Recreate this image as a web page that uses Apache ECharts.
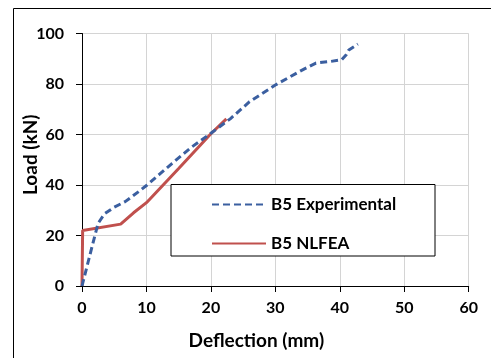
<!DOCTYPE html>
<html>
<head>
<meta charset="utf-8">
<script src="https://cdn.jsdelivr.net/npm/echarts@6/dist/echarts.min.js"></script>
<style>
  html, body { margin: 0; padding: 0; background: #fff; }
  #chart { width: 491px; height: 358px; }
</style>
</head>
<body>
<div id="chart"></div>
<script>
// Load–deflection response of beam B5: test record and nonlinear FE analysis
const expDeflection = [0, 1, 1.75, 2.5, 3.5, 5, 6.7, 9, 10, 12, 14, 17, 20, 23, 26, 30, 34, 36.3, 38.5, 40.3, 41, 41.4, 42.8];
const expLoad       = [0, 10, 17.5, 24.8, 28.6, 31.2, 33.4, 37.8, 39.8, 44.2, 48.6, 55, 60.5, 66.2, 73, 79.6, 85.3, 88.3, 88.9, 89.6, 91.6, 93.5, 95.8];

const feaDeflection = [0, 0.1, 6, 8, 10, 15, 20, 22.4];
const feaLoad       = [0, 22, 24.5, 29, 33, 46.5, 60.3, 66.2];

const xTicks = { min: 0, max: 60, step: 10 };
const yTicks = { min: 0, max: 100, step: 20 };

const seriesNames = ['B5 Experimental', 'B5 NLFEA'];

const zip = (xs, ys) => xs.map((x, i) => [x, ys[i]]);

const font = 'Lato, "Open Sans", sans-serif';

const chart = echarts.init(document.getElementById('chart'));
chart.setOption({
  animation: false,
  backgroundColor: '#fff',
  grid: { left: 82, right: 22.3, top: 33.5, bottom: 72, containLabel: false },
  graphic: [
    // outer frame (only the top and left edges fall inside the view)
    { type: 'rect', silent: true, shape: { x: 13.5, y: 8.5, width: 700, height: 600 },
      style: { fill: 'none', stroke: '#000', lineWidth: 1 }, z: 0 },
    // legend frame
    { type: 'rect', silent: true, shape: { x: 171, y: 184.5, width: 264, height: 71.5 },
      style: { fill: '#fff', stroke: '#000', lineWidth: 1 }, z: 5 }
  ],
  legend: {
    data: seriesNames,
    orient: 'vertical',
    left: 211,
    top: 196,
    padding: 0,
    itemWidth: 54,
    itemHeight: 14,
    itemGap: 22,
    z: 10,
    itemStyle: { opacity: 0 },
    textStyle: { fontFamily: font, fontWeight: 'bold', fontSize: 17, color: '#000' }
  },
  xAxis: {
    type: 'value',
    min: xTicks.min, max: xTicks.max, interval: xTicks.step,
    name: 'Deflection (mm)',
    nameLocation: 'middle',
    nameGap: 45,
    nameMoveOverlap: false,
    nameTextStyle: { fontFamily: font, fontWeight: 'bold', fontSize: 19, color: '#000', padding: [0, 38, 0, 0] },
    axisLine: { show: true, lineStyle: { color: '#000', width: 1 } },
    axisTick: { show: true, length: 6, lineStyle: { color: '#000' } },
    axisLabel: { margin: 14, fontFamily: font, fontWeight: 'bold', fontSize: 16, color: '#000' },
    splitLine: { show: true, lineStyle: { color: '#d4d4d4', width: 1 } }
  },
  yAxis: {
    type: 'value',
    min: yTicks.min, max: yTicks.max, interval: yTicks.step,
    name: 'Load (kN)',
    nameLocation: 'middle',
    nameGap: 42,
    nameRotate: 90,
    nameMoveOverlap: false,
    nameTextStyle: { fontFamily: font, fontWeight: 'bold', fontSize: 19, color: '#000', padding: [0, 0, 0, 10] },
    axisLine: { show: true, lineStyle: { color: '#000', width: 1 } },
    axisTick: { show: true, length: 6, lineStyle: { color: '#000' } },
    axisLabel: { margin: 18, fontFamily: font, fontWeight: 'bold', fontSize: 16, color: '#000' },
    splitLine: { show: true, lineStyle: { color: '#d4d4d4', width: 1 } }
  },
  series: [
    {
      name: seriesNames[0],
      type: 'line',
      data: zip(expDeflection, expLoad),
      symbol: 'none',
      z: 3,
      lineStyle: { color: '#3b5fa0', width: 3, type: [7, 4] },
      itemStyle: { color: '#3b5fa0' }
    },
    {
      name: seriesNames[1],
      type: 'line',
      data: zip(feaDeflection, feaLoad),
      symbol: 'none',
      z: 2,
      lineStyle: { color: '#c0504d', width: 3 },
      itemStyle: { color: '#c0504d' }
    }
  ]
});
</script>
</body>
</html>
